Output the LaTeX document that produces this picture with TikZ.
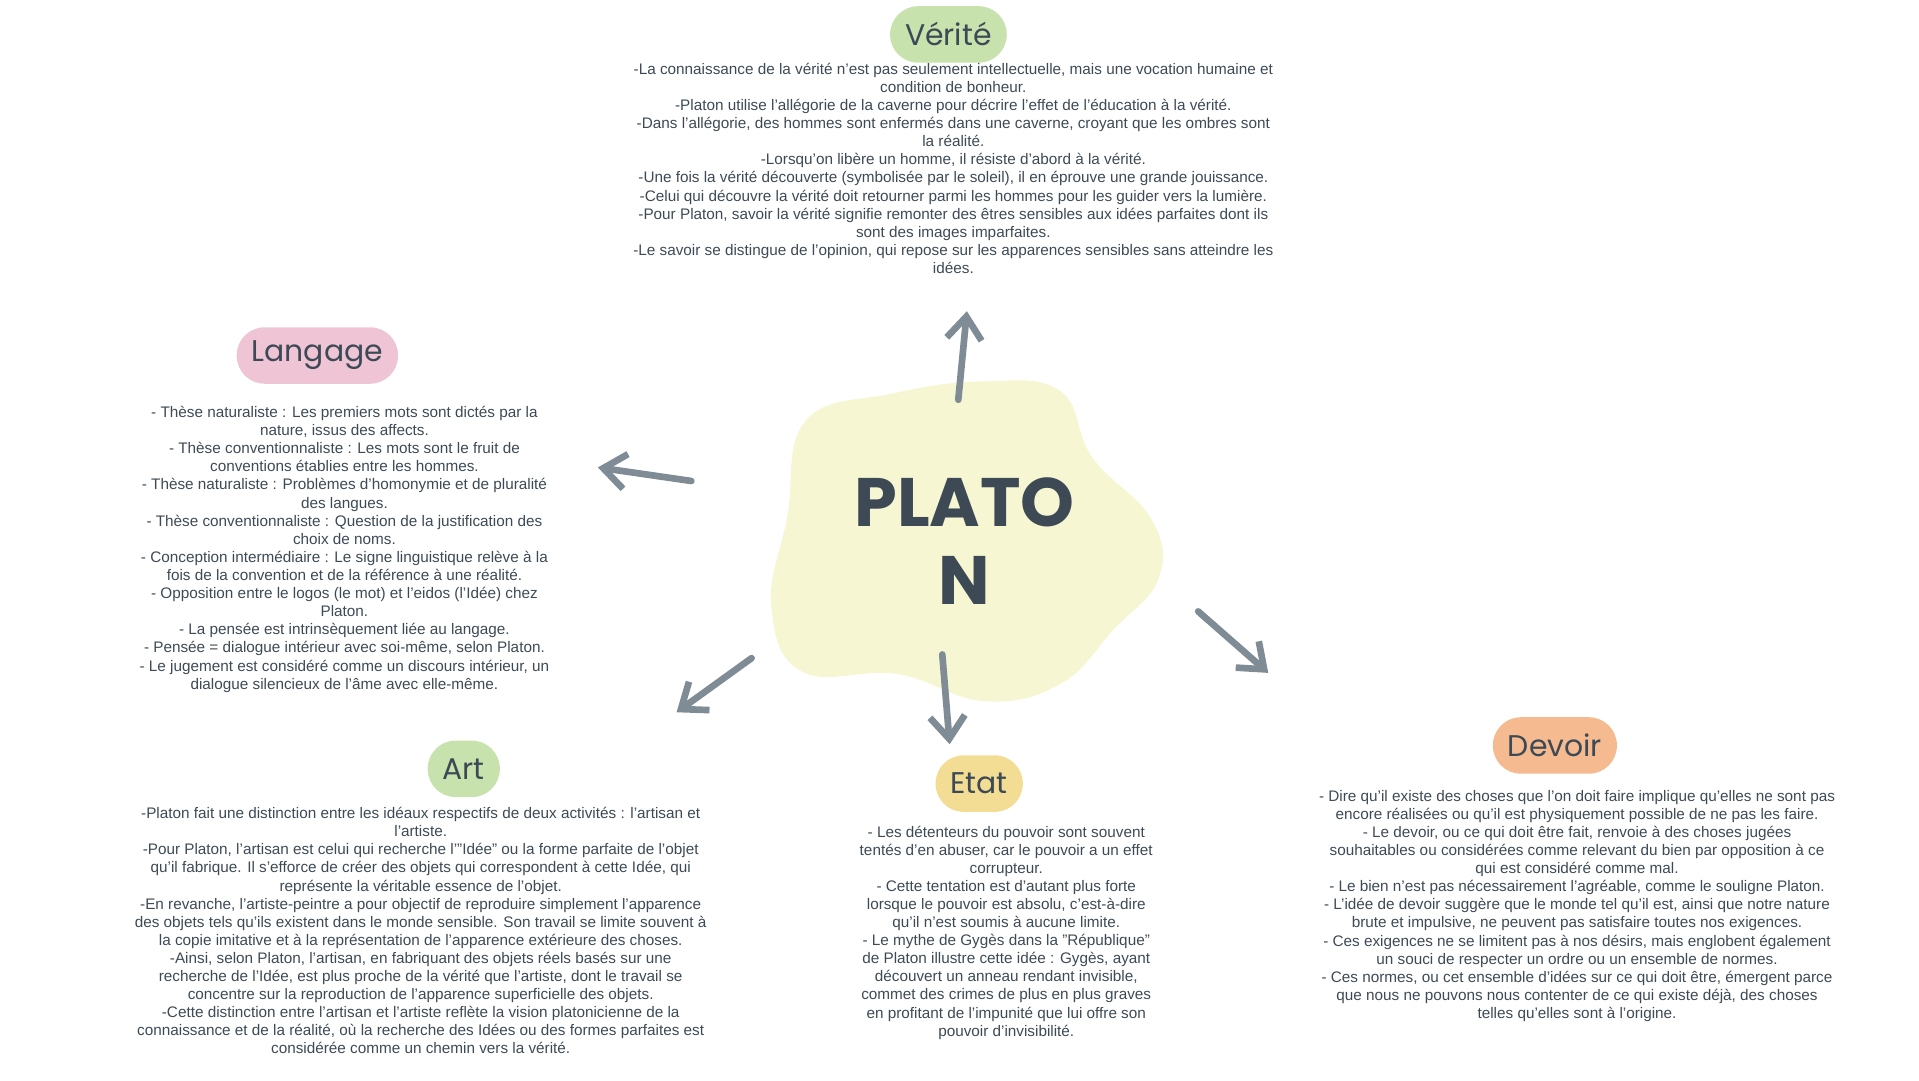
\documentclass[tikz,border=0pt]{standalone}
\usepackage{fontspec}
\setmainfont{Liberation Sans}
\newfontfamily\headfont{Poppins}
\usetikzlibrary{arrows.meta}

\definecolor{ink}{HTML}{3D4A55}
\definecolor{arrowgray}{HTML}{7F8C95}
\definecolor{blobfill}{HTML}{F6F6D2}
\definecolor{pillgreen}{HTML}{C8E2AE}
\definecolor{pillpink}{HTML}{EFC4D5}
\definecolor{pillyellow}{HTML}{F3DD95}
\definecolor{pillorange}{HTML}{F6BA90}

\tikzset{
  pill/.style={rectangle,rounded corners=0.56cm,minimum height=1.13cm,inner xsep=0.3cm,
    text=ink,font=\headfont\fontsize{17}{17}\selectfont},
  body/.style={align=center,text=ink,inner sep=0pt,font=\fontsize{8.7}{10.3}\selectfont},
  branch/.style={draw=arrowgray,line width=3.8pt,line cap=round,
    -{Straight Barb[length=4.5mm,width=7mm,line width=3.8pt]}}
}

\begin{document}
\begin{tikzpicture}[x=0.0246cm,y=-0.0246cm]

  \useasboundingbox (0,0) rectangle (1560,878);

  % central blob
  \fill[blobfill] plot[smooth cycle,tension=0.7] coordinates {(655,342) (725,320) (800,310) (862,318) (888,372)
    (936,422) (942,470) (905,512) (862,556) (800,570) (730,548) (652,546) (627,492) (640,420)};
  \node[text=ink,align=center,font=\headfont\bfseries\fontsize{39}{44}\selectfont] at (784,440) (platon) {PLATO\\N};

  % headers
  \node[pill,fill=pillgreen] at (771,28) (verite) {Vérité};
  \node[pill,fill=pillpink] at (258,289) (langage) {Langage};
  \node[pill,fill=pillgreen] at (377,625) (art) {Art};
  \node[pill,fill=pillyellow] at (796,637) (etat) {Etat};
  \node[pill,fill=pillorange] at (1264,606) (devoir) {Devoir};

  % texts
  \node[body,anchor=north] at (775,51) (tverite) {-La connaissance de la vérité n'est pas seulement intellectuelle, mais une vocation humaine et\\condition de bonheur.\\-Platon utilise l'allégorie de la caverne pour décrire l'effet de l'éducation à la vérité.\\-Dans l'allégorie, des hommes sont enfermés dans une caverne, croyant que les ombres sont\\la réalité.\\-Lorsqu'on libère un homme, il résiste d'abord à la vérité.\\-Une fois la vérité découverte (symbolisée par le soleil), il en éprouve une grande jouissance.\\-Celui qui découvre la vérité doit retourner parmi les hommes pour les guider vers la lumière.\\-Pour Platon, savoir la vérité signifie remonter des êtres sensibles aux idées parfaites dont ils\\sont des images imparfaites.\\-Le savoir se distingue de l'opinion, qui repose sur les apparences sensibles sans atteindre les\\idées.};
  \node[body,anchor=north] at (280,330) (tlangage) {- Thèse naturaliste : Les premiers mots sont dictés par la\\nature, issus des affects.\\- Thèse conventionnaliste : Les mots sont le fruit de\\conventions établies entre les hommes.\\- Thèse naturaliste : Problèmes d'homonymie et de pluralité\\des langues.\\- Thèse conventionnaliste : Question de la justification des\\choix de noms.\\- Conception intermédiaire : Le signe linguistique relève à la\\fois de la convention et de la référence à une réalité.\\- Opposition entre le logos (le mot) et l'eidos (l'Idée) chez\\Platon.\\- La pensée est intrinsèquement liée au langage.\\- Pensée = dialogue intérieur avec soi-même, selon Platon.\\- Le jugement est considéré comme un discours intérieur, un\\dialogue silencieux de l'âme avec elle-même.};
  \node[body,anchor=north] at (342,656) (tart) {-Platon fait une distinction entre les idéaux respectifs de deux activités : l'artisan et\\l'artiste.\\-Pour Platon, l'artisan est celui qui recherche l'"Idée" ou la forme parfaite de l'objet\\qu'il fabrique. Il s'efforce de créer des objets qui correspondent à cette Idée, qui\\représente la véritable essence de l'objet.\\-En revanche, l'artiste-peintre a pour objectif de reproduire simplement l'apparence\\des objets tels qu'ils existent dans le monde sensible. Son travail se limite souvent à\\la copie imitative et à la représentation de l'apparence extérieure des choses.\\-Ainsi, selon Platon, l'artisan, en fabriquant des objets réels basés sur une\\recherche de l'Idée, est plus proche de la vérité que l'artiste, dont le travail se\\concentre sur la reproduction de l'apparence superficielle des objets.\\-Cette distinction entre l'artisan et l'artiste reflète la vision platonicienne de la\\connaissance et de la réalité, où la recherche des Idées ou des formes parfaites est\\considérée comme un chemin vers la vérité.};
  \node[body,anchor=north] at (818,671) (tetat) {- Les détenteurs du pouvoir sont souvent\\tentés d'en abuser, car le pouvoir a un effet\\corrupteur.\\- Cette tentation est d'autant plus forte\\lorsque le pouvoir est absolu, c'est-à-dire\\qu'il n'est soumis à aucune limite.\\- Le mythe de Gygès dans la "République"\\de Platon illustre cette idée : Gygès, ayant\\découvert un anneau rendant invisible,\\commet des crimes de plus en plus graves\\en profitant de l'impunité que lui offre son\\pouvoir d'invisibilité.};
  \node[body,anchor=north] at (1282,642) (tdevoir) {- Dire qu'il existe des choses que l'on doit faire implique qu'elles ne sont pas\\encore réalisées ou qu'il est physiquement possible de ne pas les faire.\\- Le devoir, ou ce qui doit être fait, renvoie à des choses jugées\\souhaitables ou considérées comme relevant du bien par opposition à ce\\qui est considéré comme mal.\\- Le bien n'est pas nécessairement l'agréable, comme le souligne Platon.\\- L'idée de devoir suggère que le monde tel qu'il est, ainsi que notre nature\\brute et impulsive, ne peuvent pas satisfaire toutes nos exigences.\\- Ces exigences ne se limitent pas à nos désirs, mais englobent également\\un souci de respecter un ordre ou un ensemble de normes.\\- Ces normes, ou cet ensemble d'idées sur ce qui doit être, émergent parce\\que nous ne pouvons nous contenter de ce qui existe déjà, des choses\\telles qu'elles sont à l'origine.};

  % arrow ends
  \coordinate (up0) at (779,325);   \coordinate (up1) at (786,253);
  \coordinate (lt0) at (562,391);   \coordinate (lt1) at (486,380);
  \coordinate (dl0) at (611,535);   \coordinate (dl1) at (550,579);
  \coordinate (dn0) at (766,532);   \coordinate (dn1) at (772,605);
  \coordinate (dr0) at (974,497);   \coordinate (dr1) at (1031,547);

  \draw[branch] (up0) -- (up1);
  \draw[branch] (lt0) -- (lt1);
  \draw[branch] (dl0) -- (dl1);
  \draw[branch] (dn0) -- (dn1);
  \draw[branch] (dr0) -- (dr1);

\end{tikzpicture}
\end{document}
